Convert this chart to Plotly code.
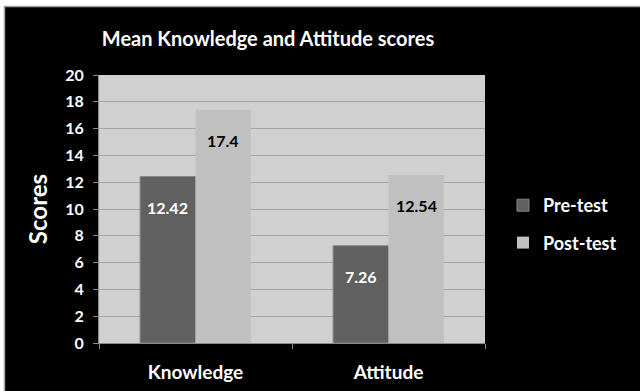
import plotly.graph_objects as go

categories = ["Knowledge", "Attitude"]
pre_test = [12.42, 7.26]
post_test = [17.4, 12.54]
y_ticks = list(range(0, 21, 2))

W, H = 640, 391
L, R, T, B = 99, 155, 75, 48
PW, PH = W - L - R, H - T - B

FONT = "Lato"
DARK = "#606060"
LIGHT = "#c0c0c0"


def px_x(px):
    return (px - L) / PW


def px_y(py):
    return (H - B - py) / PH


fig = go.Figure()
fig.add_trace(go.Bar(
    name="Pre-test", x=categories, y=pre_test,
    marker=dict(color=DARK, line=dict(color="#858585", width=1)),
    legendgroup="pre",
))
fig.add_trace(go.Bar(
    name="Post-test", x=categories, y=post_test,
    marker=dict(color=LIGHT, line=dict(width=0)),
    legendgroup="post",
))

# value labels placed just below the top of each bar
bar_half = PW / len(categories) * (1 - 0.426) / 4
annotations = []
for cat, v in zip(categories, pre_test):
    annotations.append(dict(x=cat, y=v, xref="x", yref="y", text=f"{v:g}",
                            showarrow=False, xshift=-bar_half, yshift=-31,
                            font=dict(family=FONT, size=16, color="white", weight="bold")))
for cat, v in zip(categories, post_test):
    annotations.append(dict(x=cat, y=v, xref="x", yref="y", text=f"{v:g}",
                            showarrow=False, xshift=bar_half, yshift=-31,
                            font=dict(family=FONT, size=16, color="black", weight="bold")))

# thin white frame strip on the top/left edge with a grey edge line
shapes = [
    dict(type="rect", xref="paper", yref="paper", x0=px_x(0), x1=px_x(W),
         y0=px_y(0), y1=px_y(6), fillcolor="white", line=dict(width=0), layer="above"),
    dict(type="rect", xref="paper", yref="paper", x0=px_x(0), x1=px_x(4),
         y0=px_y(0), y1=px_y(H), fillcolor="white", line=dict(width=0), layer="above"),
    dict(type="line", xref="paper", yref="paper", x0=px_x(4.5), x1=px_x(W),
         y0=px_y(6.5), y1=px_y(6.5), line=dict(color="#a0a0a0", width=1.5), layer="above"),
    dict(type="line", xref="paper", yref="paper", x0=px_x(4.5), x1=px_x(4.5),
         y0=px_y(6.5), y1=px_y(H), line=dict(color="#a0a0a0", width=1.5), layer="above"),
]

fig.update_layout(
    width=W, height=H,
    margin=dict(l=L, r=R, t=T, b=B, autoexpand=False),
    paper_bgcolor="black",
    plot_bgcolor="#d0d0d0",
    barmode="group",
    bargap=0.426,
    bargroupgap=0,
    font=dict(family=FONT, color="white"),
    title=dict(text="<b>Mean Knowledge and Attitude scores</b>",
               x=268 / W, xanchor="center", y=1 - 39 / H, yanchor="middle",
               font=dict(family=FONT, size=20, color="white")),
    xaxis=dict(
        showline=True, linecolor="#8a8a8a", linewidth=1,
        ticks="outside", tickson="boundaries", ticklen=5, tickcolor="#8a8a8a",
        showgrid=False, ticklabelstandoff=12,
        tickfont=dict(family=FONT, size=19, color="white", weight="bold"),
    ),
    yaxis=dict(
        range=[0, 20], tickvals=y_ticks,
        showline=True, linecolor="#8a8a8a", linewidth=1,
        ticks="outside", ticklen=5, tickcolor="#8a8a8a",
        showgrid=True, gridcolor="#a4a4a4", gridwidth=1,
        zeroline=False, ticklabelstandoff=6,
        tickfont=dict(family=FONT, size=16, color="white", weight="bold"),
        title=dict(text="<b>Scores</b>", font=dict(family=FONT, size=24, color="white"),
                   standoff=10),
    ),
    legend=dict(
        x=px_x(503), xanchor="left", y=px_y(187), yanchor="top",
        font=dict(family=FONT, size=18, color="white", weight="bold"),
        bgcolor="rgba(0,0,0,0)", tracegroupgap=11,
        traceorder="grouped",
    ),
    annotations=annotations,
    shapes=shapes,
)

fig.write_html("out.html")
